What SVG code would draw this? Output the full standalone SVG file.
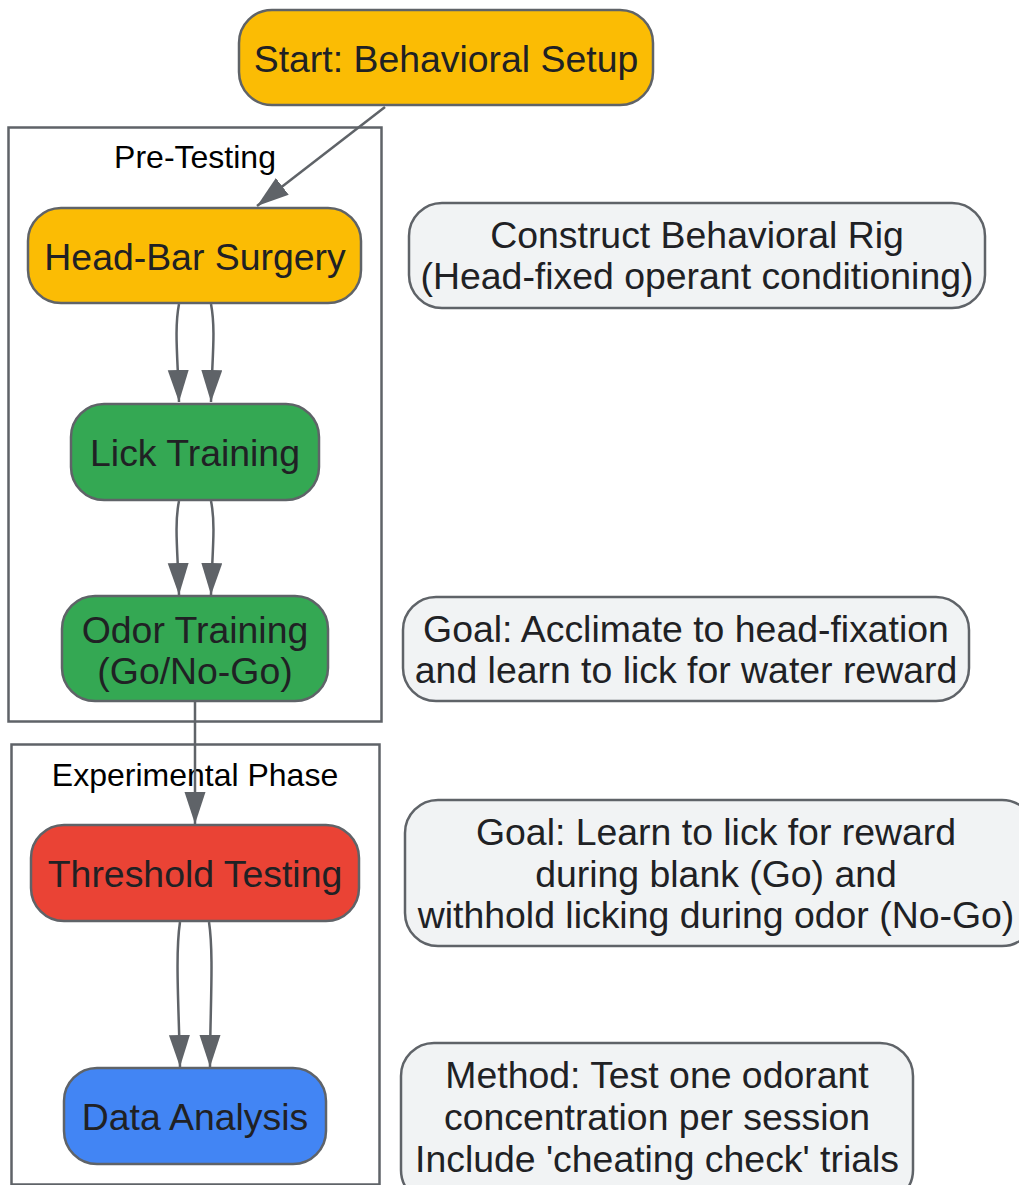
<svg xmlns="http://www.w3.org/2000/svg" width="1019" height="1185" viewBox="0 0 1019 1185">
<style>
.node{stroke:#5f6368;stroke-width:2.5}
.nt{font-family:"Liberation Sans",Arial,sans-serif;font-size:37.4px;fill:#202124;text-anchor:middle}
.note{fill:#f1f3f4;stroke:#5f6368;stroke-width:2.5}
.cl{fill:none;stroke:#5f6368;stroke-width:2.5}
.ct{font-family:"Liberation Sans",Arial,sans-serif;font-size:32px;fill:#000;text-anchor:middle}
.e{fill:none;stroke:#5f6368;stroke-width:2.5}
</style>
<defs>
<marker id="ah" markerUnits="userSpaceOnUse" markerWidth="34" markerHeight="24" refX="32" refY="10.5" orient="auto">
<path d="M0,0 L32,10.5 L0,21 z" fill="#5f6368"/>
</marker>
</defs>
<rect width="1019" height="1185" fill="#fff"/>
<g id="cluster_pre">
<rect class="cl" x="8.5" y="127.5" width="373" height="594"/>
<text class="ct" x="195" y="168">Pre-Testing</text>
</g>
<g id="cluster_exp">
<rect class="cl" x="11.5" y="744.5" width="368" height="440"/>
<text class="ct" x="195" y="786">Experimental Phase</text>
</g>
<g id="connectors">
<path class="e" d="M385,107 L257,206" marker-end="url(#ah)"/>
<path class="e" d="M179,304 C174,330 178,360 179,402" marker-end="url(#ah)"/>
<path class="e" d="M211,304 C216,330 212,360 211,402" marker-end="url(#ah)"/>
<path class="e" d="M179,501 C174,525 178,555 179,595" marker-end="url(#ah)"/>
<path class="e" d="M211,501 C216,525 212,555 211,595" marker-end="url(#ah)"/>
<path class="e" d="M195,702 L195,824" marker-end="url(#ah)"/>
<path class="e" d="M180,922 C175,955 179,1010 180,1067" marker-end="url(#ah)"/>
<path class="e" d="M209,922 C214,955 210,1010 210,1067" marker-end="url(#ah)"/>
</g>
<g id="start">
<rect class="node" x="239" y="10" width="414" height="95" rx="33" fill="#fbbc04"/>
<text class="nt" x="446" y="72">Start: Behavioral Setup</text>
</g>
<g id="headbar">
<rect class="node" x="28" y="208" width="333" height="95" rx="33" fill="#fbbc04"/>
<text class="nt" x="195" y="270">Head-Bar Surgery</text>
</g>
<g id="lick">
<rect class="node" x="71" y="404" width="248" height="96" rx="33" fill="#34a853"/>
<text class="nt" x="195" y="466">Lick Training</text>
</g>
<g id="odor">
<rect class="node" x="62" y="596" width="266" height="105" rx="33" fill="#34a853"/>
<text class="nt" x="195" y="643">Odor Training</text>
<text class="nt" x="195" y="684">(Go/No-Go)</text>
</g>
<g id="threshold">
<rect class="node" x="31" y="825" width="328" height="96" rx="33" fill="#ea4335"/>
<text class="nt" x="195" y="887">Threshold Testing</text>
</g>
<g id="data">
<rect class="node" x="64" y="1068" width="262" height="96" rx="33" fill="#4285f4"/>
<text class="nt" x="195" y="1130">Data Analysis</text>
</g>
<g id="note_rig">
<rect class="note" x="409" y="203" width="576" height="105" rx="33"/>
<text class="nt" x="697" y="248">Construct Behavioral Rig</text>
<text class="nt" x="697" y="289">(Head-fixed operant conditioning)</text>
</g>
<g id="note_acclimate">
<rect class="note" x="403" y="597" width="566" height="104" rx="33"/>
<text class="nt" x="686" y="642">Goal: Acclimate to head-fixation</text>
<text class="nt" x="686" y="683">and learn to lick for water reward</text>
</g>
<g id="note_learn">
<rect class="note" x="405" y="800" width="630" height="146" rx="33"/>
<text class="nt" x="716" y="845">Goal: Learn to lick for reward</text>
<text class="nt" x="716" y="887">during blank (Go) and</text>
<text class="nt" x="716" y="928">withhold licking during odor (No-Go)</text>
</g>
<g id="note_method">
<rect class="note" x="401" y="1043" width="512" height="160" rx="33"/>
<text class="nt" x="657" y="1088">Method: Test one odorant</text>
<text class="nt" x="657" y="1130">concentration per session</text>
<text class="nt" x="657" y="1172">Include 'cheating check' trials</text>
</g>
</svg>
